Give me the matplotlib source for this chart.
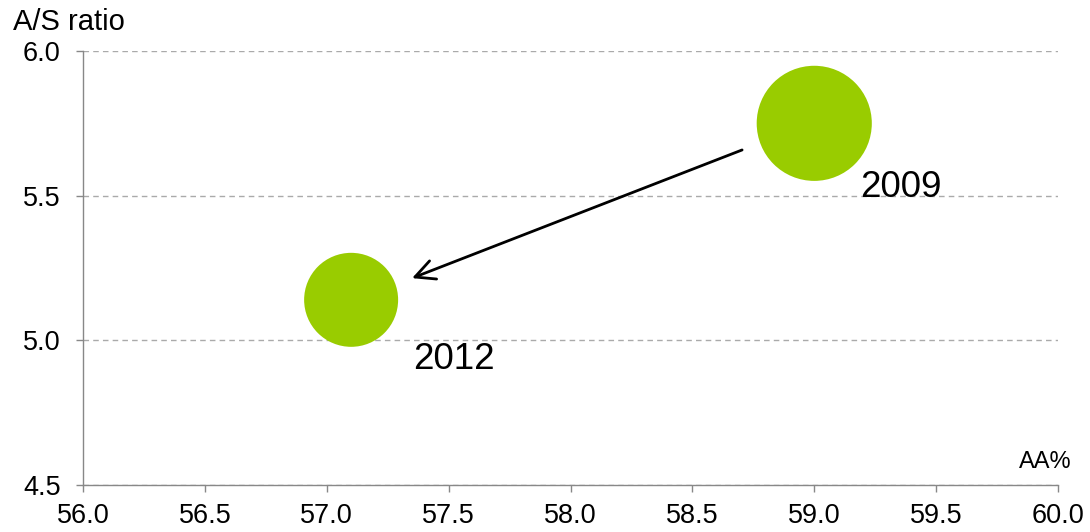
import matplotlib
matplotlib.use("Agg")
import matplotlib.pyplot as plt
import numpy as np

years = ["2009", "2012"]
aa_pct = [59.0, 57.1]
as_ratio = [5.75, 5.14]
bubble_size = [1.5, 1.0]

plt.rcParams['font.family'] = ['Liberation Sans', 'DejaVu Sans']

fig = plt.figure(figsize=(10.9, 5.32), dpi=100)
ax = fig.add_axes([83/1090, 1-485/532, (1058-83)/1090, (485-51)/532])

sizes = [s * 4580 for s in bubble_size]
ax.scatter(aa_pct, as_ratio, s=sizes, color="#99cc00", edgecolors="none", zorder=3)

xt = np.arange(56.0, 60.01, 0.5)
yt = np.arange(4.5, 6.01, 0.5)
ax.set_xlim(56.0, 60.0)
ax.set_ylim(4.5, 6.0)
ax.set_xticks(xt)
ax.set_yticks(yt)
ax.set_xticklabels([f"{v:.1f}" for v in xt])
ax.set_yticklabels([f"{v:.1f}" for v in yt])
ax.tick_params(axis='both', labelsize=19.5, color="#888888", length=5, width=1)
ax.tick_params(axis='x', pad=8)
ax.tick_params(axis='y', pad=11)

for sp in ["top", "right"]:
    ax.spines[sp].set_visible(False)
for sp in ["left", "bottom"]:
    ax.spines[sp].set_color("#888888")
    ax.spines[sp].set_linewidth(1)

ax.yaxis.grid(True, linestyle=(0, (4, 3)), color="#aaaaaa", linewidth=1)
ax.set_axisbelow(True)

# labels
label_pos = {"2009": (59.19, 5.495), "2012": (57.354, 4.901)}
for yr in years:
    lx, ly = label_pos[yr]
    ax.text(lx, ly, yr, fontsize=26.5, ha="left", va="baseline", zorder=4)

# arrow from 2009 toward 2012
ax.annotate("", xy=(57.35, 5.215), xytext=(58.704, 5.658),
            arrowprops=dict(arrowstyle="->,head_length=1.4,head_width=0.7",
                            color="black", lw=2, shrinkA=0, shrinkB=0), zorder=4)

fig.text(13/1090, 1-30/532, "A/S ratio", fontsize=21, ha="left", va="baseline")
fig.text(1072/1090, 1-468/532, "AA%", fontsize=17, ha="right", va="baseline")

fig.savefig("out.png", dpi=100)
